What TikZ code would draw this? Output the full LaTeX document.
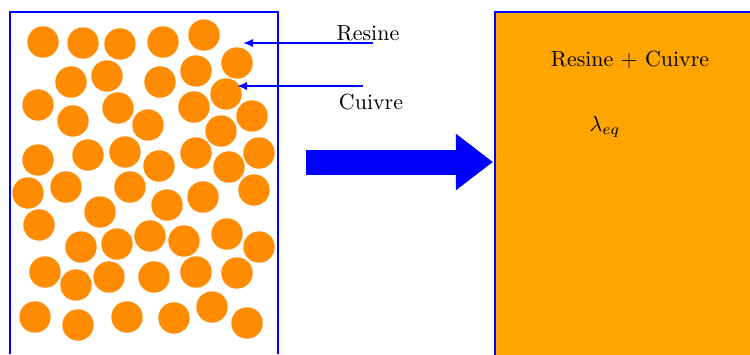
\documentclass[tikz,border=0pt]{standalone}
\usepackage{amsmath}
\usetikzlibrary{arrows.meta}

\definecolor{cuivre}{RGB}{255,140,0}
\definecolor{melange}{RGB}{255,165,0}

\begin{document}
\begin{tikzpicture}[x=0.456pt,y=-0.456pt,>={Latex[length=4.6pt,width=3.8pt]}]

\useasboundingbox (0,0) rectangle (750,354);

% Copper particles
\foreach \x/\y in {43/42,83/43,120/44,163/42,204/35,237/63,
71/82,107/76,160/82,196/71,226/94,
38/105,73/121,118/108,148/125,194/107,252/116,221/131,
38/160,88/155,125/152,159/166,196/153,229/167,259/153,
28/193,66/187,130/187,167/205,203/197,254/190,
39/225,100/212,81/247,117/244,150/236,184/241,227/234,259/247,
45/272,76/285,109/277,154/277,196/272,237/273,
35/317,78/325,127/317,174/318,212/307,247/323}
{
\fill[cuivre] (\x,\y) circle (15.7);
}

% Sample
\draw[blue,line width=1.3pt] (10,354) -- (10,12) -- (278,12) -- (278,354);

% Labels
\node (resine) at (368,33) {Resine};
\node (cuivre) at (371,102) {Cuivre};
\coordinate (resinestart) at (373,43);
\coordinate (resinetip) at (243,43);
\coordinate (cuivrestart) at (363,86);
\coordinate (cuivretip) at (237,86);
\draw[->,blue,thick] (resinestart) -- (resinetip);
\draw[->,blue,thick] (cuivrestart) -- (cuivretip);

% Homogenisation
\coordinate (arrowstart) at (306,162);
\coordinate (arrowend) at (493,162);
\draw[-{Triangle[length=16.9pt,width=24.6pt]},blue,line width=11.4pt] (arrowstart) -- (arrowend);

% Equivalent material
\filldraw[fill=melange,draw=blue,line width=0.6pt] (495,12) rectangle (752,356);
\node (melange) at (630,60) {Resine + Cuivre};
\node (lambda) at (605,127) {$\lambda_{eq}$};

\end{tikzpicture}
\end{document}
